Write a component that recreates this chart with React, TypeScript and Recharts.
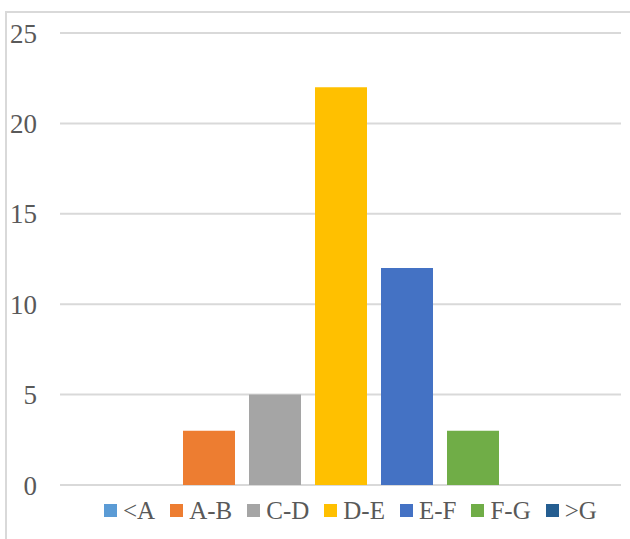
import React from 'react';
import { BarChart, Bar, XAxis, YAxis, CartesianGrid } from 'recharts';

const categories = ['<A', 'A-B', 'C-D', 'D-E', 'E-F', 'F-G', '>G'];
const values = [0, 3, 5, 22, 12, 3, 0];
const colors = ['#5b9bd5', '#ed7d31', '#a5a5a5', '#ffc000', '#4472c4', '#70ad47', '#255e91'];
const yTicks = [0, 5, 10, 15, 20, 25];

const row: Record<string, any> = { name: 'group' };
categories.forEach((_, i) => {
  row[`s${i}`] = values[i];
});
const data = [row];

const FONT = '"Liberation Serif", "Times New Roman", serif';

export default function App() {
  return (
    <div
      style={{
        position: 'absolute',
        left: 0,
        top: 0,
        width: 630,
        height: 539,
        overflow: 'hidden',
        background: '#ffffff',
        fontFamily: FONT,
      }}
    >
      <div
        style={{
          position: 'absolute',
          left: 5,
          top: 11,
          width: 700,
          height: 600,
          border: '2px solid #d9d9d9',
        }}
      />
      <div style={{ position: 'absolute', left: 0, top: 0 }}>
        <BarChart
          width={630}
          height={539}
          data={data}
          margin={{ top: 33, right: 9, bottom: 54, left: 0 }}
          barGap={14}
        >
          <CartesianGrid vertical={false} stroke="#d9d9d9" strokeWidth={2} />
          <XAxis dataKey="name" hide />
          <YAxis
            width={60}
            domain={[0, 25]}
            ticks={yTicks}
            axisLine={false}
            tickLine={false}
            tickSize={0}
            tickMargin={23}
            tick={{ fill: '#595959', fontSize: 27, fontFamily: FONT }}
          />
          {categories.map((c, i) => (
            <Bar
              key={c}
              dataKey={`s${i}`}
              name={c}
              fill={colors[i]}
              barSize={52}
              isAnimationActive={false}
            />
          ))}
        </BarChart>
      </div>
      <div
        style={{
          position: 'absolute',
          left: 104,
          top: 498,
          display: 'flex',
          alignItems: 'center',
          fontSize: 25,
          lineHeight: '25px',
          color: '#595959',
          fontFamily: FONT,
          whiteSpace: 'nowrap',
        }}
      >
        {categories.map((c, i) => (
          <div
            key={c}
            style={{
              display: 'flex',
              alignItems: 'center',
              marginRight: i < categories.length - 1 ? 15 : 0,
            }}
          >
            <span
              style={{
                display: 'inline-block',
                width: 13,
                height: 13,
                background: colors[i],
                marginRight: 6,
              }}
            />
            <span>{c}</span>
          </div>
        ))}
      </div>
    </div>
  );
}
